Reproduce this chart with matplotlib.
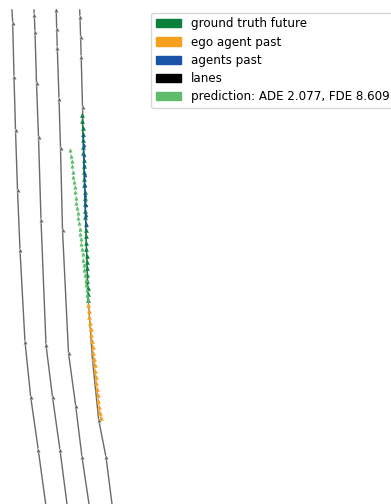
import matplotlib.pyplot as plt
from matplotlib.patches import Patch

# lane centerlines (x, y) in scene pixels, y grows downwards
lane_1_x = [12.0, 12.7, 14.0, 15.5, 17.5, 20.0, 25.0, 30.7, 38.3, 45.7]
lane_1_y = [10, 23, 77, 130, 190, 250, 342, 397, 450, 504]
lane_2_x = [34.0, 34.3, 35.0, 36.5, 38.5, 41.0, 46.0, 52.5, 60.0, 67.0]
lane_2_y = [10, 15, 32, 83, 137, 220, 345, 397, 450, 504]
lane_3_x = [56.0, 56.2, 56.7, 57.3, 59.0, 60.5, 62.5, 68.5, 75.7, 82.0, 89.0]
lane_3_y = [10, 10, 29, 48, 99, 148, 230, 353, 406, 457, 504]
lane_4_x = [79.7, 80.0, 80.6, 81.2, 82.5, 85.0, 88.3, 92.5, 98.7, 106.0, 112.0]
lane_4_y = [10, 17, 37, 57, 107, 200, 300, 360, 420, 457, 504]

ego_past_x = [88.0, 88.6, 89.3, 89.9, 90.6, 91.2, 91.9, 92.5, 93.2, 93.8,
              94.5, 95.1, 95.8, 96.4, 97.1, 97.7, 98.4, 99.0, 99.7, 100.5]
ego_past_y = [305, 311, 317, 323, 329, 335, 341, 347, 353, 359,
              365, 371, 377, 383, 389, 395, 401, 407, 413, 418]

gt_x = [88.0, 87.8, 87.6, 87.4, 87.2, 87.0, 86.8, 86.6, 86.3, 86.1,
        85.9, 85.7, 85.5, 85.3, 85.1, 84.9, 84.7, 84.5, 84.3, 84.1,
        83.9, 83.7, 83.5, 83.3, 83.1, 82.9, 82.7, 82.5, 82.3, 82.1]
gt_y = [300, 294, 288, 281, 275, 268, 262, 256, 249, 243,
        236, 230, 224, 217, 211, 204, 198, 192, 185, 179,
        172, 166, 160, 153, 147, 140, 134, 128, 121, 115]

agents_x = [86.0, 85.8, 85.5, 85.2, 84.9, 84.6, 84.3, 84.0, 83.7, 83.4]
agents_y = [225, 215, 205, 195, 185, 175, 165, 155, 145, 135]

pred_x = [88.0, 87.4, 86.8, 86.2, 85.6, 85.0, 84.4, 83.8, 83.2, 82.5,
          81.9, 81.3, 80.7, 80.1, 79.5, 78.9, 78.3, 77.7, 77.0, 76.4,
          75.8, 75.2, 74.6, 74.0, 73.4, 72.8, 72.2, 71.5, 70.8, 70.2]
pred_y = [300, 295, 290, 285, 280, 275, 270, 265, 260, 254,
          249, 244, 239, 234, 229, 223, 218, 213, 208, 203,
          198, 192, 187, 182, 177, 172, 166, 161, 156, 150]

ade, fde = 2.077, 8.609

c_gt = '#0b7f3c'
c_ego = '#f7a01e'
c_agents = '#1a52a8'
c_lanes = '#000000'
c_pred = '#5dbd6b'

fig = plt.figure(figsize=(3.91, 5.04), dpi=100)
ax = fig.add_axes([0, 0, 1, 1])

for lx, ly in [(lane_1_x, lane_1_y), (lane_2_x, lane_2_y),
               (lane_3_x, lane_3_y), (lane_4_x, lane_4_y)]:
    ax.plot(lx, ly, color='#5a5a5a', lw=1.0, alpha=0.9,
            marker='^', ms=3.4, mec='white', mew=0.4,
            markevery=slice(1, -1, 1))

ax.plot(gt_x, gt_y, color=c_gt, lw=0.7, marker='^', ms=2.9, mew=0.3)
ax.plot(agents_x, agents_y, color=c_agents, lw=0.8, marker='^', ms=2.2, mew=0.3)
ax.plot(ego_past_x, ego_past_y, color=c_ego, lw=0.7, marker='^', ms=2.9, mew=0.3)
ax.plot(pred_x, pred_y, color=c_pred, lw=0.6, ls=':', marker='^', ms=2.5, mew=0.3)

ax.set_xlim(0, 391)
ax.set_ylim(504, 0)
ax.axis('off')

handles = [Patch(color=c_gt, label='ground truth future'),
           Patch(color=c_ego, label='ego agent past'),
           Patch(color=c_agents, label='agents past'),
           Patch(color=c_lanes, label='lanes'),
           Patch(color=c_pred, label=f'prediction: ADE {ade:.3f}, FDE {fde:.3f}')]
fig.legend(handles=handles, loc='upper left', bbox_to_anchor=(0.387, 0.975),
           fontsize=8.6, labelspacing=0.44, handlelength=2.1,
           borderaxespad=0.0)

fig.savefig('out.png', dpi=100)
